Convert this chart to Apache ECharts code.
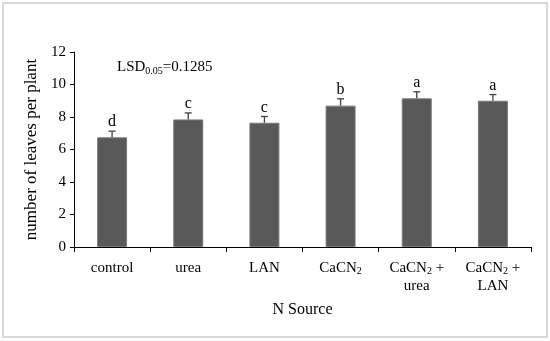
<!DOCTYPE html>
<html><head><meta charset="utf-8">
<script src="https://cdn.jsdelivr.net/npm/echarts@6/dist/echarts.min.js"></script>
<style>html,body{margin:0;padding:0;background:#fff}#c{width:550px;height:341px}</style>
</head><body><div id="c"></div>
<script>
const categories = ['control', 'urea', 'LAN', 'CaCN2', 'CaCN2 + urea', 'CaCN2 + LAN'];
const values = [6.75, 7.85, 7.65, 8.7, 9.15, 9.0];
const errors = [0.38, 0.4, 0.38, 0.42, 0.4, 0.38];
const letters = ['d', 'c', 'c', 'b', 'a', 'a'];
const yTicks = [0, 2, 4, 6, 8, 10, 12];

const FONT = '"Liberation Serif", "DejaVu Serif", serif';
const chart = echarts.init(document.getElementById('c'));

function catLabel(v) {
  if (v === 'CaCN2') return '{n|CaCN}{s|2}';
  if (v === 'CaCN2 + urea') return '{n|CaCN}{s|2}{n| +}\n{n|urea}';
  if (v === 'CaCN2 + LAN') return '{n|CaCN}{s|2}{n| +}\n{n|LAN}';
  return '{n|' + v + '}';
}

chart.setOption({
  animation: false,
  backgroundColor: '#fff',
  graphic: [
    { type: 'rect', shape: { x: 3, y: 3, width: 544, height: 334 }, style: { fill: 'none', stroke: '#d9d9d9', lineWidth: 2 } },
    { type: 'text', left: 117, top: 60, style: { text: '{n|LSD}{s|0.05}{n|=0.1285}', rich: {
      n: { fontFamily: FONT, fontSize: 15, fill: '#000' },
      s: { fontFamily: FONT, fontSize: 10, fill: '#000', padding: [8, 0, 0, 0] } } } }
  ],
  grid: { left: 74, right: 19, top: 52, bottom: 94 },
  xAxis: {
    type: 'category', data: categories,
    name: 'N Source', nameLocation: 'middle', nameGap: 55,
    nameTextStyle: { fontFamily: FONT, fontSize: 16, color: '#000' },
    axisLine: { lineStyle: { color: '#000', width: 1 } },
    axisTick: { show: true, length: 5, alignWithLabel: false, lineStyle: { color: '#000' } },
    axisLabel: { margin: 12, formatter: catLabel, interval: 0, rich: {
      n: { fontFamily: FONT, fontSize: 15, color: '#000', lineHeight: 18 },
      s: { fontFamily: FONT, fontSize: 10, color: '#000', padding: [7, 0, 0, 0] } } }
  },
  yAxis: {
    type: 'value', min: 0, max: 12, interval: 2,
    name: 'number of leaves per plant', nameLocation: 'middle', nameGap: 33,
    nameTextStyle: { fontFamily: FONT, fontSize: 17, color: '#000' },
    axisLine: { show: true, lineStyle: { color: '#000' } },
    axisTick: { show: true, length: 4, lineStyle: { color: '#000' } },
    splitLine: { show: false },
    axisLabel: { fontFamily: FONT, fontSize: 15, color: '#000', margin: 8,
      formatter: v => yTicks.includes(v) ? String(v) : '' }
  },
  series: [
    { type: 'bar', data: values, barWidth: 30,
      itemStyle: { color: '#595959', borderColor: '#7a7a7a', borderWidth: 1 } },
    { type: 'custom', z: 10,
      data: values.map((v, i) => [i, v, errors[i], letters[i]]),
      renderItem: function (params, api) {
        const i = api.value(0), v = api.value(1), e = api.value(2);
        const p0 = api.coord([i, v]);
        const p1 = api.coord([i, v + e]);
        const st = { stroke: '#404040', lineWidth: 1.3 };
        return { type: 'group', children: [
          { type: 'line', shape: { x1: p0[0], y1: p0[1], x2: p1[0], y2: p1[1] }, style: st },
          { type: 'line', shape: { x1: p1[0] - 3.5, y1: p1[1], x2: p1[0] + 3.5, y2: p1[1] }, style: st },
          { type: 'text', x: p1[0], y: p1[1] - 1, style: { text: letters[i], fontFamily: FONT, fontSize: 16, fill: '#000', align: 'center', verticalAlign: 'bottom' } }
        ] };
      }
    }
  ]
});
</script></body></html>
